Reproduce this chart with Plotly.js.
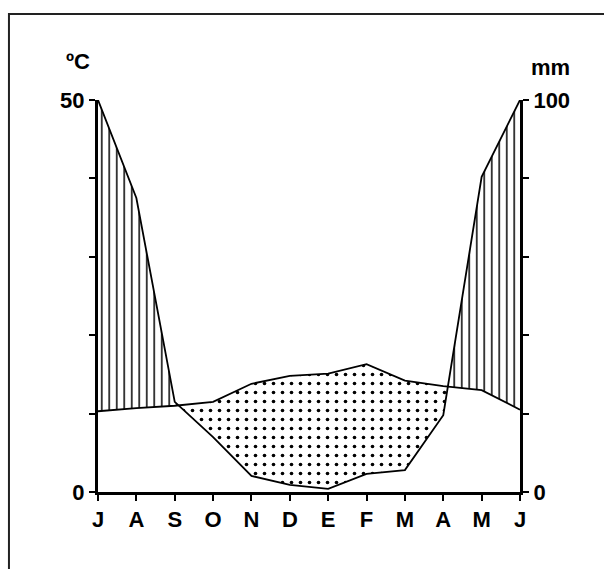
<!DOCTYPE html>
<html>
<head>
<meta charset="utf-8">
<script src="https://cdn.plot.ly/plotly-3.0.1.min.js"></script>
<style>
html,body{margin:0;padding:0;background:#fff;}
#chart{width:604px;height:569px;}
</style>
</head>
<body>
<div id="chart"></div>
<script>
// Data
const months = ['J','A','S','O','N','D','E','F','M','A','M','J'];
const temperature = [10.3, 10.7, 11.0, 11.5, 13.8, 14.8, 15.1, 16.3, 14.2, 13.5, 13.0, 10.5]; // °C
const precipitation = [100, 75, 23, 14, 4.1, 1.8, 0.8, 4.6, 5.6, 19.6, 80.4, 100]; // mm
const tempTicks = [0, 10, 20, 30, 40, 50];
const tempTickText = ['0', '', '', '', '', '50'];
const precTicks = [0, 20, 40, 60, 80, 100];
const precTickText = ['0', '', '', '', '', '100'];

const n = months.length;
const xIdx = months.map((_, i) => i);
const pT = precipitation.map(v => v / 2); // precipitation in °C scale (1°C = 2 mm)

// Densify with crossing points
const xs = [], ts = [], ps = [];
for (let i = 0; i < n; i++) {
  xs.push(i); ts.push(temperature[i]); ps.push(pT[i]);
  if (i < n - 1) {
    const d0 = pT[i] - temperature[i], d1 = pT[i + 1] - temperature[i + 1];
    if (d0 * d1 < 0) {
      const f = d0 / (d0 - d1);
      xs.push(i + f);
      const yc = temperature[i] + f * (temperature[i + 1] - temperature[i]);
      ts.push(yc); ps.push(yc);
    }
  }
}
const upper = ts.map((t, i) => Math.max(t, ps[i]));
const lower = ts.map((t, i) => Math.min(t, ps[i]));

const font = {family: 'Liberation Sans, Arial, sans-serif', size: 22, color: '#000', weight: 'bold'};

const traces = [
  {x: xs, y: ts, mode: 'lines', line: {width: 0}, hoverinfo: 'skip', showlegend: false},
  {x: xs, y: upper, mode: 'lines', line: {width: 0}, fill: 'tonexty', fillcolor: 'rgba(0,0,0,0)',
   fillpattern: {shape: '|', size: 7.5, solidity: 0.2, fgcolor: '#000', bgcolor: '#fff'},
   hoverinfo: 'skip', showlegend: false},
  {x: xs, y: lower, mode: 'lines', line: {width: 0}, hoverinfo: 'skip', showlegend: false},
  {x: xs, y: ts, mode: 'lines', line: {width: 0}, fill: 'tonexty', fillcolor: 'rgba(0,0,0,0)',
   fillpattern: {shape: '.', size: 9, solidity: 0.13, fgcolor: '#000', bgcolor: '#fff'},
   hoverinfo: 'skip', showlegend: false},
  {x: xIdx, y: temperature, mode: 'lines', line: {color: '#000', width: 1.8}, showlegend: false, name: 'ºC'},
  {x: xIdx, y: precipitation, yaxis: 'y2', mode: 'lines', line: {color: '#000', width: 1.8}, showlegend: false, name: 'mm'}
];

const layout = {
  width: 604, height: 569,
  margin: {l: 98, r: 84, t: 100, b: 77},
  paper_bgcolor: '#fff', plot_bgcolor: 'rgba(0,0,0,0)',
  showlegend: false,
  xaxis: {
    range: [0, 11], tickvals: xIdx, ticktext: months, showgrid: false, zeroline: false,
    showline: true, linecolor: '#000', linewidth: 3, ticks: 'outside', ticklen: 6, tickwidth: 2,
    tickcolor: '#000', tickfont: font
  },
  yaxis: {
    range: [0, 50], tickvals: tempTicks, ticktext: tempTickText, showgrid: false, zeroline: false,
    showline: true, linecolor: '#000', linewidth: 3, ticks: 'outside', ticklen: 6, tickwidth: 2,
    tickcolor: '#000', tickfont: font
  },
  yaxis2: {
    range: [0, 100], tickvals: precTicks, ticktext: precTickText, overlaying: 'y', side: 'right',
    showgrid: false, zeroline: false, showline: true, linecolor: '#000', linewidth: 3,
    ticks: 'outside', ticklen: 6, tickwidth: 2, tickcolor: '#000', tickfont: font
  },
  annotations: [
    {text: 'ºC', xref: 'paper', yref: 'paper', x: -0.047, y: 1.097, xanchor: 'center', yanchor: 'middle',
     showarrow: false, font: font},
    {text: 'mm', xref: 'paper', yref: 'paper', x: 1.073, y: 1.082, xanchor: 'center', yanchor: 'middle',
     showarrow: false, font: font}
  ],
  shapes: [
    {type: 'rect', xref: 'paper', yref: 'paper', x0: -0.211, x1: 1.4, y0: -0.4, y1: 1.2194,
     line: {color: '#222', width: 2}, fillcolor: 'rgba(0,0,0,0)'}
  ]
};

Plotly.newPlot('chart', traces, layout, {staticPlot: true, displayModeBar: false});
</script>
</body>
</html>
